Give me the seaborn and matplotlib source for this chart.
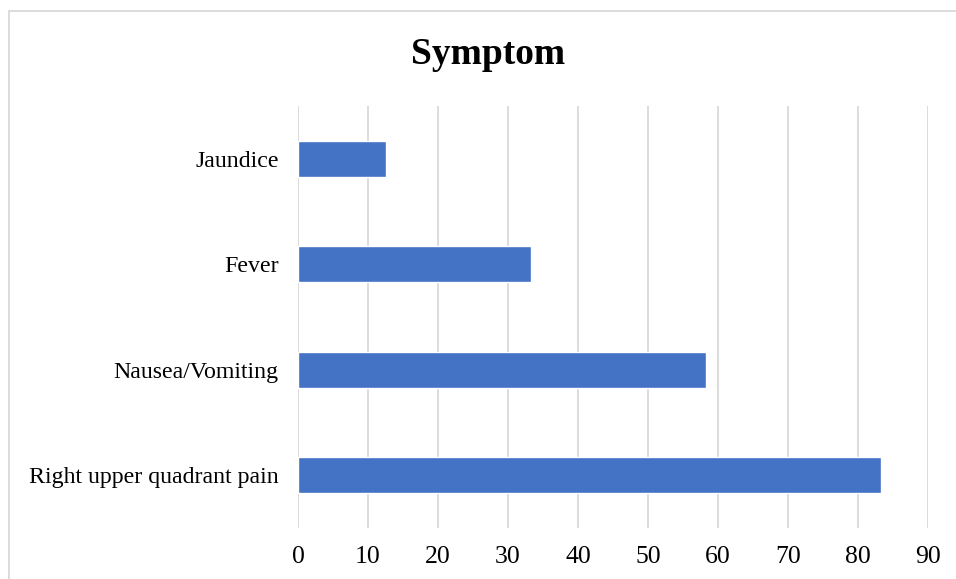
import matplotlib
matplotlib.use("Agg")
import matplotlib.pyplot as plt
import seaborn as sns
import pandas as pd
from matplotlib.patches import Rectangle

categories = ["Jaundice", "Fever", "Nausea/Vomiting", "Right upper quadrant pain"]
values = [12.5, 33.3, 58.3, 83.3]
xticks = [0, 10, 20, 30, 40, 50, 60, 70, 80, 90]

sns.set_theme(style="white")
plt.rcParams['font.family'] = ['Liberation Serif', 'DejaVu Serif']
plt.rcParams['text.color'] = 'black'
plt.rcParams['xtick.color'] = 'black'
plt.rcParams['ytick.color'] = 'black'

df = pd.DataFrame({"Symptom": categories, "Value": values})

fig = plt.figure(figsize=(9.56, 5.79), dpi=100)
ax = fig.add_axes([298/956, 1-528/579, 630/956, 422/579])

sns.barplot(data=df, y="Symptom", x="Value", orient="h", color="#4472C4",
            saturation=1, width=0.34, ax=ax)

ax.set_xlim(0, 90)
ax.set_xticks(xticks)
ax.set_xticklabels([str(t) for t in xticks], fontsize=18.5)
ax.tick_params(axis="y", labelsize=17.2, length=0, pad=14, labelcolor="black")
ax.tick_params(axis="x", length=0, pad=13, labelcolor="black")
ax.xaxis.grid(True, color="#D9D9D9", linewidth=1.3)
ax.set_axisbelow(True)
for s in ax.spines.values():
    s.set_visible(False)
ax.set_xlabel("")
ax.set_ylabel("")

fig.text(488/956, 1-55/579, "Symptom", ha="center", va="center",
         fontsize=27, fontweight="bold", color="black")

fig.patches.append(Rectangle((9/956, -0.05), 1.0, 1.05-11/579, transform=fig.transFigure,
                             fill=False, edgecolor="#D9D9D9", linewidth=1.3))

fig.savefig("out.png", dpi=100)
